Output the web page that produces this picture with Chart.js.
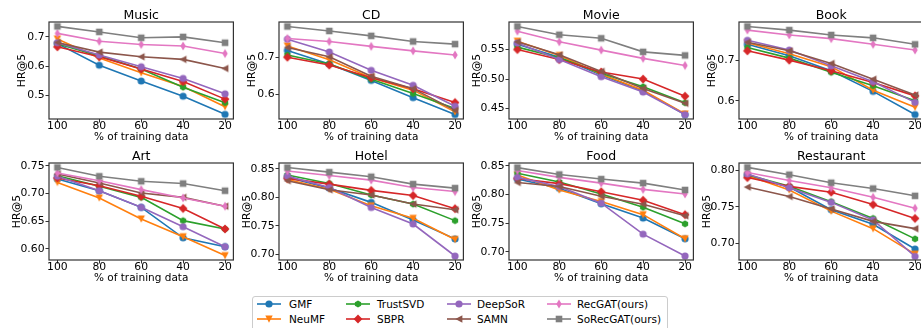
<!DOCTYPE html>
<html>
<head>
<meta charset="utf-8">
<script src="https://cdn.jsdelivr.net/npm/chart.js@4.4.0/dist/chart.umd.min.js"></script>
<style>
  html, body { margin: 0; padding: 0; background: #fff; width: 921px; height: 328px; overflow: hidden; }
  body { position: relative; font-family: "DejaVu Sans", sans-serif; }
  .panel { position: absolute; }
  #legend { position: absolute; left: 252px; top: 296px; width: 416px; height: 44px; border: 1px solid #cccccc; border-radius: 3px; box-sizing: border-box; background: #fff; }
  .key { position: absolute; }
  .lab { position: absolute; font-size: 10.5px; line-height: 12px; color: #000; white-space: nowrap; }
</style>
</head>
<body>
<div id="legend"></div>
<script>
// x positions (% of training data)
const pct = [100, 80, 60, 40, 20];
const models = ['GMF', 'NeuMF', 'TrustSVD', 'SBPR', 'DeepSoR', 'SAMN', 'RecGAT(ours)', 'SoRecGAT(ours)'];
const colors = ['#1f77b4', '#ff7f0e', '#2ca02c', '#d62728', '#9467bd', '#8c564b', '#e377c2', '#7f7f7f'];
const markers = ['o', 'v', 'h', 'D', 'o', '<', 'd', 's'];

// HR@5 per model, same order as models
const music = [
  [0.677, 0.603, 0.549, 0.497, 0.435],
  [0.693, 0.628, 0.577, 0.530, 0.461],
  [0.677, 0.635, 0.590, 0.528, 0.475],
  [0.666, 0.632, 0.590, 0.547, 0.487],
  [0.680, 0.638, 0.598, 0.558, 0.505],
  [0.681, 0.648, 0.632, 0.623, 0.592],
  [0.712, 0.685, 0.674, 0.669, 0.643],
  [0.736, 0.717, 0.697, 0.700, 0.680]
];
const cd = [
  [0.718, 0.682, 0.638, 0.592, 0.547],
  [0.730, 0.693, 0.645, 0.612, 0.554],
  [0.706, 0.682, 0.641, 0.603, 0.563],
  [0.700, 0.679, 0.645, 0.616, 0.579],
  [0.748, 0.714, 0.665, 0.625, 0.569],
  [0.726, 0.701, 0.649, 0.616, 0.558],
  [0.750, 0.742, 0.729, 0.717, 0.706],
  [0.782, 0.770, 0.757, 0.742, 0.735]
];
const movie = [
  [0.559, 0.537, 0.507, 0.480, 0.440],
  [0.564, 0.540, 0.508, 0.481, 0.441],
  [0.554, 0.536, 0.510, 0.487, 0.460],
  [0.550, 0.533, 0.512, 0.500, 0.471],
  [0.561, 0.533, 0.504, 0.478, 0.440],
  [0.563, 0.541, 0.513, 0.484, 0.459],
  [0.581, 0.563, 0.549, 0.535, 0.523],
  [0.589, 0.575, 0.569, 0.546, 0.540]
];
const book = [
  [0.739, 0.711, 0.674, 0.623, 0.566],
  [0.743, 0.716, 0.684, 0.626, 0.584],
  [0.731, 0.705, 0.670, 0.637, 0.600],
  [0.723, 0.700, 0.674, 0.645, 0.612],
  [0.749, 0.725, 0.686, 0.647, 0.596],
  [0.744, 0.723, 0.692, 0.653, 0.614],
  [0.774, 0.762, 0.753, 0.739, 0.725],
  [0.783, 0.774, 0.762, 0.755, 0.739]
];
const art = [
  [0.726, 0.705, 0.675, 0.620, 0.604],
  [0.720, 0.692, 0.654, 0.622, 0.588],
  [0.732, 0.713, 0.693, 0.651, 0.636],
  [0.728, 0.714, 0.695, 0.673, 0.636],
  [0.731, 0.705, 0.675, 0.640, 0.604],
  [0.735, 0.719, 0.701, 0.693, 0.677],
  [0.737, 0.723, 0.707, 0.692, 0.677],
  [0.747, 0.731, 0.722, 0.718, 0.705]
];
const hotel = [
  [0.835, 0.816, 0.791, 0.760, 0.727],
  [0.831, 0.814, 0.785, 0.763, 0.726],
  [0.839, 0.824, 0.804, 0.788, 0.759],
  [0.833, 0.823, 0.812, 0.803, 0.780],
  [0.837, 0.817, 0.782, 0.753, 0.697],
  [0.829, 0.813, 0.804, 0.788, 0.778],
  [0.846, 0.838, 0.830, 0.817, 0.810],
  [0.852, 0.844, 0.836, 0.823, 0.816]
];
const food = [
  [0.827, 0.811, 0.784, 0.759, 0.723],
  [0.834, 0.808, 0.788, 0.765, 0.723],
  [0.837, 0.822, 0.801, 0.778, 0.749],
  [0.828, 0.819, 0.805, 0.790, 0.765],
  [0.830, 0.814, 0.785, 0.731, 0.693],
  [0.821, 0.814, 0.797, 0.783, 0.763],
  [0.842, 0.830, 0.820, 0.809, 0.801],
  [0.847, 0.835, 0.827, 0.820, 0.808]
];
const restaurant = [
  [0.793, 0.777, 0.746, 0.726, 0.692],
  [0.793, 0.773, 0.744, 0.720, 0.685],
  [0.794, 0.778, 0.757, 0.734, 0.706],
  [0.790, 0.778, 0.770, 0.753, 0.734],
  [0.795, 0.776, 0.756, 0.732, 0.682],
  [0.777, 0.764, 0.747, 0.730, 0.720],
  [0.797, 0.786, 0.776, 0.763, 0.748],
  [0.804, 0.794, 0.783, 0.775, 0.765]
];

// y tick labels and axis limits
const musicTicks = ['0.5', '0.6', '0.7'];
const cdTicks = ['0.6', '0.7'];
const movieTicks = ['0.45', '0.50', '0.55'];
const bookTicks = ['0.6', '0.7'];
const artTicks = ['0.60', '0.65', '0.70', '0.75'];
const hotelTicks = ['0.70', '0.75', '0.80', '0.85'];
const foodTicks = ['0.70', '0.75', '0.80', '0.85'];
const restaurantTicks = ['0.70', '0.75', '0.80'];

const musicRange = [0.419, 0.751];
const cdRange = [0.535, 0.794];
const movieRange = [0.4325, 0.5965];
const bookRange = [0.555, 0.794];
const artRange = [0.580, 0.755];
const hotelRange = [0.690, 0.860];
const foodRange = [0.686, 0.855];
const restaurantRange = [0.677, 0.810];

const panels = [
  ['Music', music, musicTicks, musicRange],
  ['CD', cd, cdTicks, cdRange],
  ['Movie', movie, movieTicks, movieRange],
  ['Book', book, bookTicks, bookRange],
  ['Art', art, artTicks, artRange],
  ['Hotel', hotel, hotelTicks, hotelRange],
  ['Food', food, foodTicks, foodRange],
  ['Restaurant', restaurant, restaurantTicks, restaurantRange]
];

Chart.defaults.font.family = '"DejaVu Sans", sans-serif';
Chart.defaults.color = '#000';

function drawMarker(g, kind, cx, cy, color) {
  g.fillStyle = color;
  g.beginPath();
  if (kind === 'o') {
    g.arc(cx, cy, 3.6, 0, Math.PI * 2);
  } else if (kind === 's') {
    g.rect(cx - 3.3, cy - 3.3, 6.6, 6.6);
  } else if (kind === 'D') {
    g.moveTo(cx, cy - 4.4); g.lineTo(cx + 4.4, cy); g.lineTo(cx, cy + 4.4); g.lineTo(cx - 4.4, cy);
  } else if (kind === 'd') {
    g.moveTo(cx, cy - 4.4); g.lineTo(cx + 2.7, cy); g.lineTo(cx, cy + 4.4); g.lineTo(cx - 2.7, cy);
  } else if (kind === 'v') {
    g.moveTo(cx - 3.7, cy - 3.4); g.lineTo(cx + 3.7, cy - 3.4); g.lineTo(cx, cy + 3.7);
  } else if (kind === '<') {
    g.moveTo(cx - 3.7, cy); g.lineTo(cx + 3.4, cy - 3.7); g.lineTo(cx + 3.4, cy + 3.7);
  } else if (kind === 'h') {
    for (let k = 0; k < 6; k++) {
      const a = -Math.PI / 2 + k * Math.PI / 3;
      const px = cx + 3.6 * Math.cos(a), py = cy + 3.6 * Math.sin(a);
      if (k === 0) g.moveTo(px, py); else g.lineTo(px, py);
    }
  }
  g.closePath();
  g.fill();
}

function markerImage(kind, color) {
  const c = document.createElement('canvas');
  c.width = 12; c.height = 12;
  drawMarker(c.getContext('2d'), kind, 6, 6, color);
  return c;
}

const frame = {
  id: 'frame',
  afterDatasetsDraw(chart) {
    const { ctx, chartArea: a } = chart;
    ctx.save();
    ctx.strokeStyle = '#333';
    ctx.lineWidth = 1.2;
    ctx.strokeRect(a.left, a.top, a.right - a.left, a.bottom - a.top);
    ctx.restore();
  }
};

const colLeft = [-1, 229, 459, 689];
const rowTop = [0, 141];

panels.forEach((p, n) => {
  const [name, values, tickLabels, range] = p;
  const tickVals = tickLabels.map(Number);
  const twoDec = tickLabels[0].length > 3;

  const cv = document.createElement('canvas');
  cv.className = 'panel';
  cv.width = 240; cv.height = 146;
  cv.style.left = colLeft[n % 4] + 'px';
  cv.style.top = rowTop[Math.floor(n / 4)] + 'px';
  document.body.appendChild(cv);

  new Chart(cv, {
    type: 'line',
    data: {
      datasets: models.map((m, i) => ({
        label: m,
        data: values[i].map((v, j) => ({ x: pct[j], y: v })),
        borderColor: colors[i],
        backgroundColor: colors[i],
        borderWidth: 1.6,
        pointStyle: markerImage(markers[i], colors[i]),
        pointRadius: 3.5,
        tension: 0,
        order: models.length - i
      }))
    },
    options: {
      responsive: false,
      animation: false,
      devicePixelRatio: 1,
      layout: { padding: { left: 0, right: 4, top: 0, bottom: 0 } },
      plugins: {
        legend: { display: false },
        tooltip: { enabled: false },
        title: {
          display: true,
          text: name,
          fullSize: false,
          color: '#000',
          font: { size: 12.5, weight: 'normal', lineHeight: 1 },
          padding: { top: 9.05, bottom: 0.45 }
        }
      },
      scales: {
        x: {
          type: 'linear',
          reverse: true,
          min: 16,
          max: 104,
          afterBuildTicks: s => { s.ticks = pct.map(v => ({ value: v })); },
          afterFit: s => { s.height = 27; },
          grid: { drawOnChartArea: false, drawTicks: true, tickLength: 3.5, color: '#333' },
          border: { display: false },
          ticks: { font: { size: 10.8, lineHeight: 0.7 }, padding: 0, color: '#000', maxRotation: 0, autoSkip: false, callback: v => String(v) },
          title: { display: true, text: '% of training data', color: '#000', font: { size: 10.5, lineHeight: 1.2 }, padding: { top: 0, bottom: 2.2 } }
        },
        y: {
          min: range[0],
          max: range[1],
          bounds: 'data',
          afterBuildTicks: s => { s.ticks = tickVals.map(v => ({ value: v })); },
          afterFit: s => { s.width = 50; },
          grid: { drawOnChartArea: false, drawTicks: true, tickLength: 3.5, color: '#333' },
          border: { display: false },
          ticks: { font: { size: 10.8 }, padding: 1, color: '#000', autoSkip: false, callback: (v, i) => tickLabels[i] },
          title: { display: true, text: 'HR@5', color: '#000', font: { size: 10.8, lineHeight: 1 }, padding: { top: twoDec ? 12.6 : 18.1, bottom: 0 } }
        }
      }
    },
    plugins: [frame]
  });
});

// legend
const legend = document.getElementById('legend');
const keyX = [3.7, 93, 193.7, 293.7];
const textX = [36, 124, 224, 324];
const rowY = [7.3, 22.3];
models.forEach((m, i) => {
  const col = Math.floor(i / 2), row = i % 2;
  const c = document.createElement('canvas');
  c.className = 'key';
  c.width = 24; c.height = 12;
  c.style.left = keyX[col] + 'px';
  c.style.top = (rowY[row] - 6) + 'px';
  const g = c.getContext('2d');
  g.strokeStyle = colors[i];
  g.lineWidth = 1.6;
  g.beginPath(); g.moveTo(0, 6); g.lineTo(24, 6); g.stroke();
  drawMarker(g, markers[i], 12, 6, colors[i]);
  legend.appendChild(c);
  const s = document.createElement('span');
  s.className = 'lab';
  s.textContent = m;
  s.style.left = textX[col] + 'px';
  s.style.top = (rowY[row] - 6) + 'px';
  legend.appendChild(s);
});
</script>
</body>
</html>
